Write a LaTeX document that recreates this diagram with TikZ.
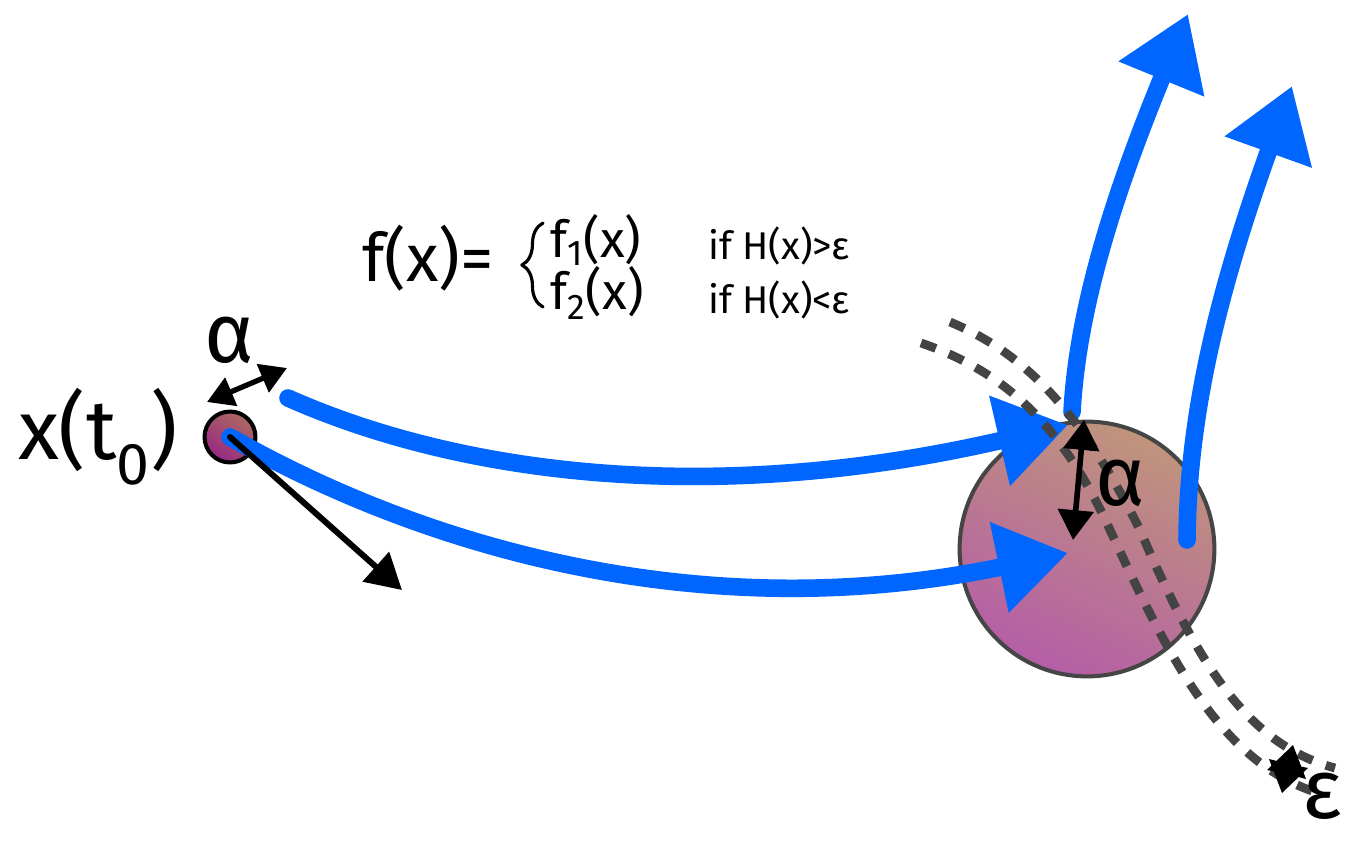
\documentclass[tikz,border=0pt]{standalone}
\usepackage{fontspec}
\setmainfont{Fira Sans}
\usetikzlibrary{arrows.meta,decorations.pathreplacing}
\definecolor{crayonblue}{HTML}{0066FF}
\definecolor{dashgray}{HTML}{444444}
\definecolor{rimgray}{HTML}{454545}
\begin{document}
\begin{tikzpicture}[x=0.02cm, y=-0.02cm, line join=round, line cap=round, >={Triangle[length=18pt,width=20pt]},
  crayon/.style={draw=crayonblue, line width=10pt, -{Triangle[length=40pt,width=50pt]}},
  gapline/.style={draw=dashgray, line width=5pt, line cap=butt, dash pattern=on 9pt off 8pt},
  big/.style={font=\fontsize{48}{56}\selectfont, inner sep=0pt},
  mid/.style={font=\fontsize{38}{44}\selectfont, inner sep=0pt, anchor=west},
  small/.style={font=\fontsize{29}{34}\selectfont, inner sep=0pt, anchor=west},
  tiny/.style={font=\fontsize{22}{26}\selectfont, inner sep=0pt, anchor=west}]
\useasboundingbox (0,0) rectangle (1359,842);

% target region and start point
\node[circle, draw=rimgray, line width=2.3pt, minimum size=145pt, inner sep=0pt,
  top color={rgb,255:red,192;green,148;blue,124}, bottom color={rgb,255:red,180;green,94;blue,166}, shading angle=-25] (drop) at (1087,549) {};
\node[circle, draw=black, line width=2.3pt, minimum size=29pt, inner sep=0pt,
  top color={rgb,255:red,172;green,106;blue,96}, bottom color={rgb,255:red,152;green,40;blue,132}, shading angle=-35] (ball) at (230,437) {};
\node[big] (xlabel) at (98,437) {x(t\textsubscript{0})};

% trajectories
\coordinate (u0) at (288,398);
\coordinate (u1) at (1068,425);
\coordinate (l1) at (1068,553);
\coordinate (a0) at (1072,412);
\coordinate (a1) at (1188,14);
\coordinate (b0) at (1187,540);
\coordinate (b1) at (1292,86);
\draw[crayon] (u0) .. controls (450,470) and (700,510) .. (u1);
\draw[crayon] (ball.center) .. controls (420,545) and (700,630) .. (l1);
\draw[crayon] (a0) .. controls (1078,300) and (1120,180) .. (a1);
\draw[crayon] (b0) .. controls (1188,420) and (1215,300) .. (b1);

% switching surface
\draw[gapline] (921,343) .. controls (1000,370) and (1060,420) .. (1110,530) .. controls (1170,660) and (1220,760) .. (1315,792);
\draw[gapline] (950,322) .. controls (1030,355) and (1085,420) .. (1140,530) .. controls (1200,670) and (1250,745) .. (1335,768);

% widths
\coordinate (w0) at (207,402);
\coordinate (w1) at (287,368);
\draw[line width=3pt, {Triangle[length=15pt,width=17pt]}-{Triangle[length=15pt,width=17pt]}] (w0) -- (w1);
\node[big] (alphaA) at (230,340) {α};
\coordinate (push) at (402,590);
\draw[line width=3.4pt, -{Triangle[length=20pt,width=22pt]}] (ball.center) -- (push);
\coordinate (v0) at (1084,420);
\coordinate (v1) at (1073,540);
\draw[line width=3.2pt, {Triangle[length=17pt,width=20pt]}-{Triangle[length=17pt,width=20pt]}] (v0) -- (v1);
\node[big] (alphaB) at (1120,483) {α};
% eps marker
\fill (1293,745) -- (1306,779) -- (1287,774) -- (1267,770) -- cycle;
\fill (1282,793) -- (1269,759) -- (1289,764) -- (1308,768) -- cycle;
\node[big] (eps) at (1322,796) {ε};

% switching rule
\node[mid] (fx) at (362,258) {f(x)=};
\draw[line width=1.8pt, decorate, decoration={brace, amplitude=12pt}] (543,307) -- (543,223);
\node[small] (fone) at (550,240) {f\textsubscript{1}(x)};
\node[small] (ftwo) at (550,293) {f\textsubscript{2}(x)};
\node[tiny] (hone) at (708,246) {if H(x)>ε};
\node[tiny] (htwo) at (708,300) {if H(x)<ε};
\end{tikzpicture}
\end{document}
